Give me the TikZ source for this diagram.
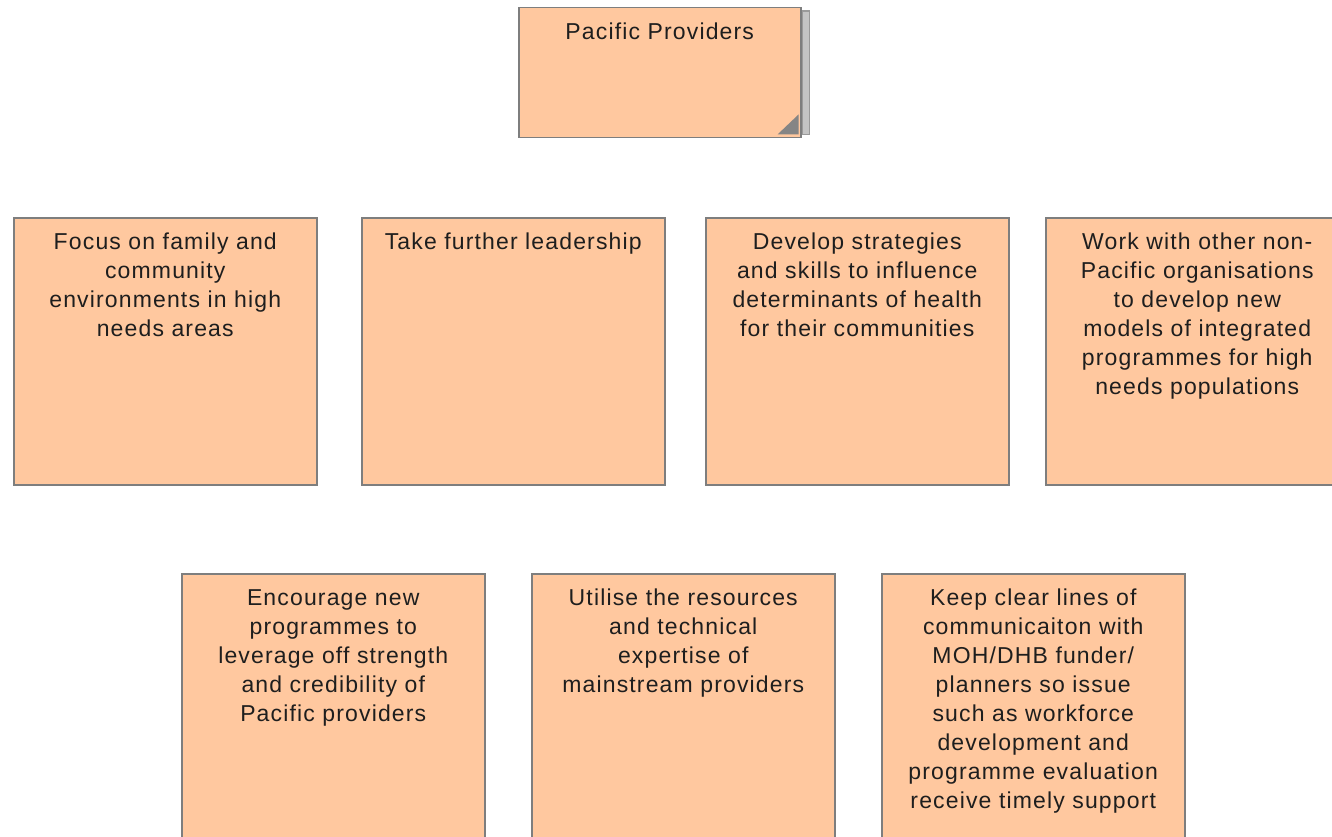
\documentclass[tikz,border=0pt]{standalone}
\usepackage{fontspec}
\setmainfont[LetterSpace=5]{Liberation Sans}
\definecolor{peach}{HTML}{FFC89F}
\definecolor{boxline}{HTML}{7E7E7E}
\definecolor{textc}{HTML}{1E1E1E}
\definecolor{shadowfill}{HTML}{C4C4C4}
\definecolor{shadowline}{HTML}{9A9A9A}
\definecolor{cornerc}{HTML}{858585}
\begin{document}
\begin{tikzpicture}[x=1pt,y=-1pt,
  box/.style={draw=boxline, line width=1.5pt, fill=peach, rectangle, inner sep=0pt,
    minimum width=303pt, minimum height=267pt, anchor=north west},
  topbox/.style={box, minimum width=282pt, minimum height=130pt},
  txt/.style={anchor=north, inner sep=0pt, align=center, text=textc,
    font=\fontsize{23}{29}\selectfont, yshift=-16pt},
  shade/.style={draw=shadowline, line width=1.2pt, fill=shadowfill},
  corner/.style={fill=cornerc}]
\clip (0,0) rectangle (1332,837);
\fill[white] (0,0) rectangle (1332,837);

% top box
\node[topbox] (top) at (518,7) {};
\draw[shade] ([xshift=0.8pt,yshift=-4pt]top.north east) rectangle ([xshift=8pt,yshift=4pt]top.south east);
\fill[corner] ([xshift=-3pt,yshift=24pt]top.south east) -- ([xshift=-3pt,yshift=4pt]top.south east) -- ([xshift=-24pt,yshift=4pt]top.south east) -- cycle;
\node[txt] (topt) at (top.north) {Pacific Providers};

% row 1
\node[box] (b1) at (13,217) {};
\node[txt] (b1t) at (b1.north) {Focus on family and\\community\\environments in high\\needs areas};
\node[box] (b2) at (361,217) {};
\node[txt] (b2t) at (b2.north) {Take further leadership};
\node[box] (b3) at (705,217) {};
\node[txt] (b3t) at (b3.north) {Develop strategies\\and skills to influence\\determinants of health\\for their communities};
\node[box] (b4) at (1045,217) {};
\node[txt] (b4t) at (b4.north) {Work with other non-\\Pacific organisations\\to develop new\\models of integrated\\programmes for high\\needs populations};

% row 2
\node[box] (b5) at (181,573) {};
\node[txt] (b5t) at (b5.north) {Encourage new\\programmes to\\leverage off strength\\and credibility of\\Pacific providers};
\node[box] (b6) at (531,573) {};
\node[txt] (b6t) at (b6.north) {Utilise the resources\\and technical\\expertise of\\mainstream providers};
\node[box] (b7) at (881,573) {};
\node[txt] (b7t) at (b7.north) {Keep clear lines of\\communicaiton with\\MOH/DHB funder/\\planners so issue\\such as workforce\\development and\\programme evaluation\\receive timely support};
\end{tikzpicture}
\end{document}
